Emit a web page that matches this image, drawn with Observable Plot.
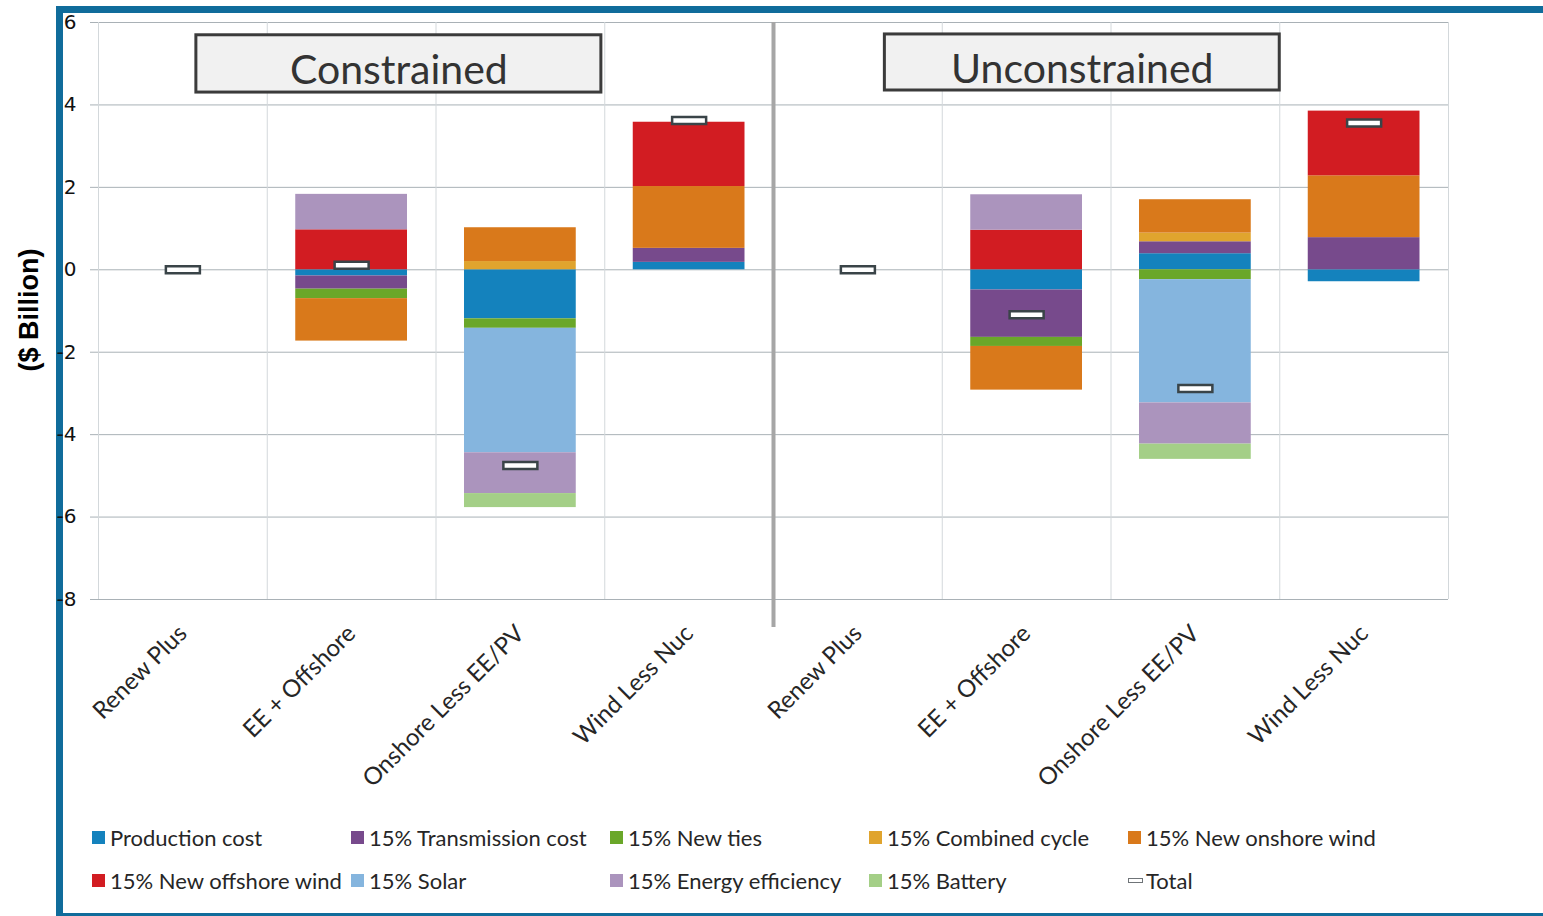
<!DOCTYPE html>
<html>
<head>
<meta charset="utf-8">
<script src="https://cdn.jsdelivr.net/npm/d3@7"></script>
<script src="https://cdn.jsdelivr.net/npm/@observablehq/plot@0.6"></script>
<style>
  html, body { margin: 0; padding: 0; background: #fff; }
  body { width: 1543px; height: 916px; position: relative; overflow: hidden; font-family: Lato, sans-serif; }
  #frame { position: absolute; left: 56px; top: 6px; width: 1487px; height: 914px; box-sizing: border-box;
           border-left: 7px solid #106c9b; border-top: 7px solid #106c9b; border-bottom: 7px solid #106c9b; }
  #chart { position: absolute; left: 0; top: 0; }
  #ylabel { position: absolute; left: 29px; top: 310px; transform: translate(-50%, -50%) rotate(-90deg);
            font: bold 27px "Liberation Sans", Arial, sans-serif; white-space: nowrap; color: #000; }
  #legend { position: absolute; left: 92px; top: 816px; display: grid; grid-template-columns: repeat(5, 259px);
            grid-auto-rows: 43px; font: 22px Lato, sans-serif; color: #262626; }
  .item { display: flex; align-items: center; white-space: nowrap; }
  .sw { width: 13px; height: 13px; margin-right: 5px; flex: none; }
  .sw.total { width: 13px; height: 3px; border: 1.5px solid #6f7478; background: #fff; margin-right: 3px; box-sizing: content-box; }
</style>
</head>
<body>
<div id="frame"></div>
<div id="chart"></div>
<div id="ylabel">($ Billion)</div>
<div id="legend"></div>
<script>
// Scenario categories, repeated in each panel
const categories = ["Renew Plus", "EE + Offshore", "Onshore Less EE/PV", "Wind Less Nuc"];
const panels = ["Constrained", "Unconstrained"];

// Cost components, in stacking order
const series = [
  "Production cost", "15% Transmission cost", "15% New ties", "15% Combined cycle",
  "15% New onshore wind", "15% New offshore wind", "15% Solar", "15% Energy efficiency", "15% Battery"
];
const colors = [
  "#1482bd", "#774a8c", "#6aa729", "#e0a42e",
  "#d9791b", "#d21c22", "#85b5de", "#ab94bd", "#a4cf87"
];

// $ billion per component (rows follow `series`, columns follow `categories`)
const constrainedValues = [
  [0, -0.15, -1.19, 0.18],
  [0, -0.32, 0, 0.34],
  [0, -0.23, -0.23, 0],
  [0, 0, 0.20, 0],
  [0, -1.03, 0.82, 1.50],
  [0, 0.97, 0, 1.56],
  [0, 0, -3.02, 0],
  [0, 0.86, -0.99, 0],
  [0, 0, -0.34, 0]
];
const unconstrainedValues = [
  [0, -0.49, 0.39, -0.29],
  [0, -1.15, 0.29, 0.78],
  [0, -0.22, -0.24, 0],
  [0, 0, 0.21, 0],
  [0, -1.06, 0.81, 1.50],
  [0, 0.96, 0, 1.57],
  [0, 0, -2.99, 0],
  [0, 0.86, -1.00, 0],
  [0, 0, -0.37, 0]
];
const constrainedTotal = [0, 0.11, -4.75, 3.62];
const unconstrainedTotal = [0, -1.09, -2.88, 3.56];

const yTicks = [-8, -6, -4, -2, 0, 2, 4, 6];

// One slot per (panel, category); positive parts stack up, negative parts stack down
const panelValues = [constrainedValues, unconstrainedValues];
const panelTotals = [constrainedTotal, unconstrainedTotal];
const segments = [];
const totals = [];
panels.forEach((panel, p) => {
  categories.forEach((category, c) => {
    const slot = p * categories.length + c;
    let up = 0, down = 0;
    series.forEach((name, s) => {
      const v = panelValues[p][s][c];
      if (!v) return;
      if (v > 0) { segments.push({slot, series: name, y1: up, y2: up + v}); up += v; }
      else { segments.push({slot, series: name, y1: down, y2: down + v}); down += v; }
    });
    totals.push({slot, total: panelTotals[p][c]});
  });
});
const slotCount = panels.length * categories.length;
const slotCenters = d3.range(slotCount).map(i => i + 0.5);

// Panel title boxes, placed in chart units
const panelBoxes = [
  {label: "Constrained", x1: 0.58, x2: 2.98, y1: 5.69, y2: 4.30, ty: 4.83},
  {label: "Unconstrained", x1: 4.66, x2: 7.0, y1: 5.71, y2: 4.35, ty: 4.85}
];

// Total marker: small outlined bar
const totalSymbol = {draw(context) { context.rect(-17, -3.5, 34, 7); }};

const chart = Plot.plot({
  width: 1543,
  height: 800,
  marginLeft: 98,
  marginRight: 95,
  marginTop: 22,
  marginBottom: 201,
  style: {fontFamily: "Lato, sans-serif", background: "transparent"},
  x: {domain: [0, slotCount]},
  y: {domain: [-8, 6]},
  color: {domain: series, range: colors},
  marks: [
    Plot.ruleY(yTicks, {stroke: "#a9b1b6"}),
    Plot.ruleX(d3.range(slotCount + 1).filter(i => i !== categories.length), {stroke: "#d3d8db"}),
    Plot.ruleX([categories.length], {y1: 6, y2: -8.68, stroke: "#a6a6a6", strokeWidth: 4}),
    Plot.rect(segments, {x1: "slot", x2: d => d.slot + 1, y1: "y1", y2: "y2", fill: "series", insetLeft: 28.5, insetRight: 28.5}),
    Plot.dot(totals, {x: d => d.slot + 0.5, y: "total", symbol: totalSymbol, r: 5, fill: "white", stroke: "#3a4448", strokeWidth: 2.5}),
    Plot.rect(panelBoxes, {x1: "x1", x2: "x2", y1: "y1", y2: "y2", fill: "#f1f1f1", stroke: "#3b3b3b", strokeWidth: 3}),
    Plot.text(panelBoxes, {x: d => (d.x1 + d.x2) / 2, y: "ty", text: "label", fontSize: 41, fill: "#333", fontFamily: "Lato, sans-serif"}),
    Plot.axisY(yTicks, {tickSize: 8, tickPadding: 14, stroke: "#a9b1b6", fill: "#111", fontSize: 20,
      fontFamily: "DejaVu Sans, sans-serif", tickFormat: d => String(d), label: null}),
    Plot.axisX(slotCenters, {tickSize: 0, tickPadding: 30, tickRotate: -45, fontSize: 24, fill: "#262626",
      tickFormat: v => categories[Math.floor(v) % categories.length], label: null})
  ]
});
document.getElementById("chart").append(chart);

// Legend: components first, then the total marker
const legend = d3.select("#legend");
series.forEach((name, i) => {
  const item = legend.append("div").attr("class", "item");
  item.append("span").attr("class", "sw").style("background", colors[i]);
  item.append("span").text(name);
});
const totalItem = legend.append("div").attr("class", "item");
totalItem.append("span").attr("class", "sw total");
totalItem.append("span").text("Total");
</script>
</body>
</html>
